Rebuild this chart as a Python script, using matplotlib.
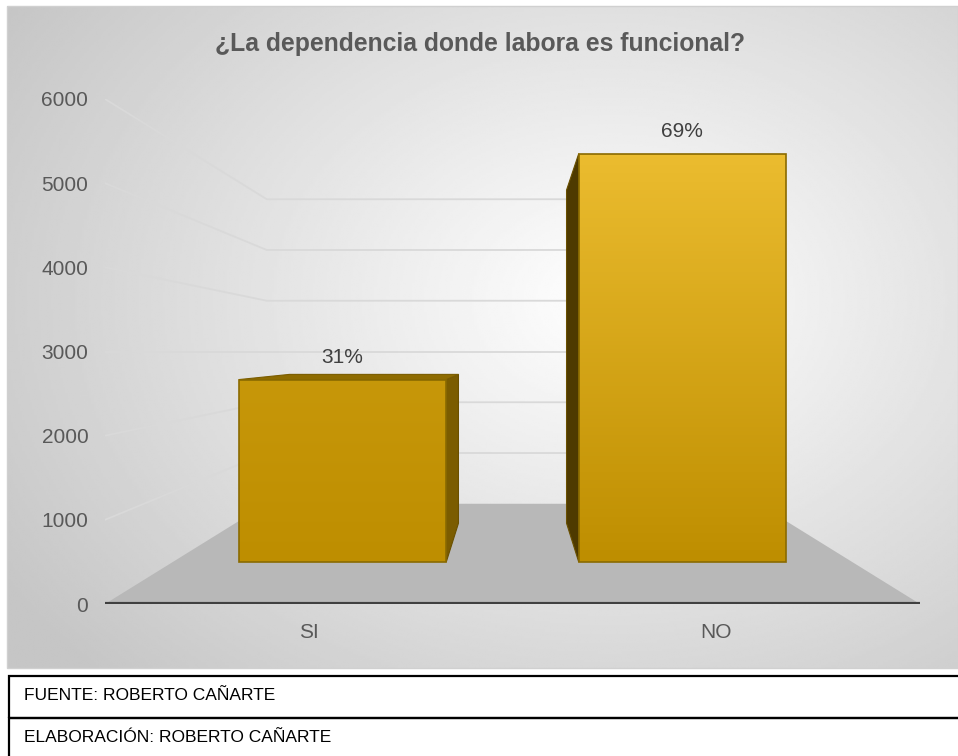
import numpy as np
import matplotlib.pyplot as plt
from matplotlib.patches import Polygon, Rectangle

categories = ["SI", "NO"]
values = [2600, 5820]
y_ticks = [0, 1000, 2000, 3000, 4000, 5000, 6000]
title = "¿La dependencia donde labora es funcional?"
footer = ["FUENTE: ROBERTO CAÑARTE", "ELABORACIÓN: ROBERTO CAÑARTE"]

W, H = 958, 756
plt.rcParams['font.family'] = ['Liberation Sans', 'DejaVu Sans']

# fake 3d: depth scale factors towards the vanishing point
CX, EYE = 0.5, 3000
WALL, BAR_FRONT, BAR_BACK = 0.603, 0.834, 0.68
BAR_W = 0.61


def px_box(x0, y0, x1, y1):
    return [x0 / W, 1 - y1 / H, (x1 - x0) / W, (y1 - y0) / H]


def proj(x, y, f):
    return CX + (x - CX) * f, EYE + (y - EYE) * f


fig = plt.figure(figsize=(W / 100, H / 100), dpi=100)
fig.patch.set_facecolor('white')

# chart area with radial gradient
bg = fig.add_axes(px_box(7, 6, 958, 668))
gx, gy = np.meshgrid(np.linspace(7, 958, 400), np.linspace(6, 668, 300))
r = np.sqrt(((gx - 610) / 600) ** 2 + ((gy - 300) / 450) ** 2)
shade = np.clip(255 - 48 * r, 198, 255) / 255
bg.imshow(shade, cmap='gray', vmin=0, vmax=1, aspect='auto', interpolation='bilinear')
bg.axis('off')
fig.add_artist(Rectangle((7 / W, 1 - 668 / H), 951 / W, 662 / H, transform=fig.transFigure,
                         fill=False, edgecolor='#d0d0d0', lw=1))

fig.text(480 / W, 1 - 44 / H, title, ha='center', va='center', fontsize=17.8,
         fontweight='bold', color='#595959')

ax = fig.add_axes(px_box(105, 99, 920, 604))
ax.set_facecolor('none')
x0, x1 = -0.5, len(categories) - 0.5

# side and back wall gridlines
for v in y_ticks[1:]:
    pts = [proj(x0, v, 1), proj(x0, v, WALL), proj(x1, v, WALL)]
    ax.plot([p[0] for p in pts], [p[1] for p in pts], color='#d9d9d9', lw=1.3, zorder=1)

# floor
floor = [proj(x0, 0, 1), proj(x1, 0, 1), proj(x1, 0, WALL), proj(x0, 0, WALL)]
ax.add_patch(Polygon(floor, closed=True, facecolor='#b8b8b8', edgecolor='none', zorder=2))
ax.plot([x0, x1], [0, 0], color='#404040', lw=3, solid_capstyle='round', zorder=3)

total = sum(values)
bottom_col = np.array([190, 142, 0]) / 255
top_col = np.array([238, 191, 50]) / 255
for i, v in enumerate(values):
    xl, xr = i - BAR_W / 2, i + BAR_W / 2
    # side face toward the center
    xs = xr if xr < CX else xl
    side = [proj(xs, 0, BAR_FRONT), proj(xs, 0, BAR_BACK), proj(xs, v, BAR_BACK), proj(xs, v, BAR_FRONT)]
    side_col = '#7b5c00' if xr < CX else '#4e3a00'
    ax.add_patch(Polygon(side, closed=True, facecolor=side_col, edgecolor='#6a5000', lw=0.8, zorder=4))
    if v < EYE:
        top = [proj(xl, v, BAR_FRONT), proj(xr, v, BAR_FRONT), proj(xr, v, BAR_BACK), proj(xl, v, BAR_BACK)]
        ax.add_patch(Polygon(top, closed=True, facecolor='#8e6b00', edgecolor='#7a5c00', lw=0.8, zorder=4))
    # front face with vertical gradient
    (fx0, fy0), (fx1, fy1) = proj(xl, 0, BAR_FRONT), proj(xr, v, BAR_FRONT)
    t = (v / y_ticks[-1]) ** 2
    grad = np.linspace(0, t, 100)[:, None, None]
    img = bottom_col + (top_col - bottom_col) * grad
    front = Polygon([(fx0, fy0), (fx1, fy0), (fx1, fy1), (fx0, fy1)], closed=True,
                    facecolor='none', edgecolor='#8a6a00', lw=1.2, zorder=6)
    ax.add_patch(front)
    im = ax.imshow(img, extent=(fx0, fx1, fy0, fy1), origin='lower', aspect='auto', zorder=5)
    im.set_clip_path(front)
    pct = round(100 * v / total)
    ax.annotate(f"{pct}%", xy=((fx0 + fx1) / 2, fy1), xytext=(0, 16), textcoords='offset points',
                ha='center', va='center', fontsize=15, color='#404040', zorder=7)

ax.set_xlim(x0, x1)
ax.set_ylim(y_ticks[0], y_ticks[-1])
ax.set_yticks(y_ticks)
ax.set_xticks(range(len(categories)))
ax.set_xticklabels(categories)
ax.tick_params(axis='y', length=0, pad=12, labelsize=15, labelcolor='#595959')
ax.tick_params(axis='x', length=0, pad=14, labelsize=15, labelcolor='#595959')
for s in ax.spines.values():
    s.set_visible(False)

# source table under the chart
rows = [(676, 718), (718, 762)]
for (ya, yb), txt in zip(rows, footer):
    fig.add_artist(Rectangle((9 / W, 1 - yb / H), 960 / W, (yb - ya) / H, transform=fig.transFigure,
                             fill=False, edgecolor='black', lw=1.6))
    fig.text(24 / W, 1 - (ya + yb - 4) / 2 / H, txt, ha='left', va='center', fontsize=12.5, color='black')

fig.savefig('out.png', dpi=100)
